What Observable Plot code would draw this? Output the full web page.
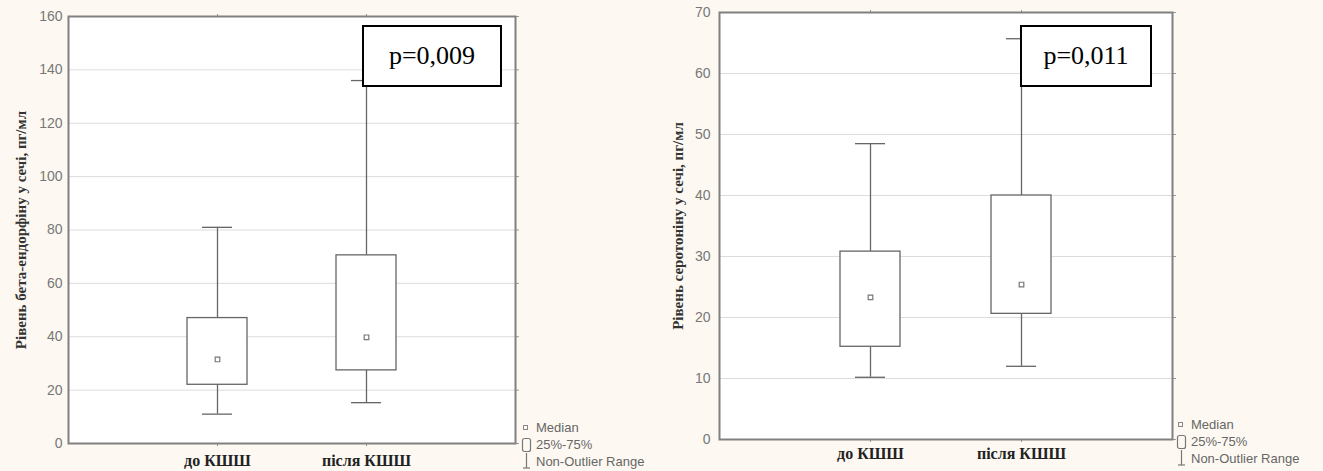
<!DOCTYPE html>
<html>
<head>
<meta charset="utf-8">
<script src="https://cdn.jsdelivr.net/npm/d3@7"></script>
<script src="https://cdn.jsdelivr.net/npm/@observablehq/plot@0.6"></script>
<style>
  html, body { margin: 0; padding: 0; background: #fdf9f2; }
  #wrap { position: relative; width: 1323px; height: 471px; overflow: hidden; background: #fdf9f2; }
  .panel { position: absolute; top: 0; }
  .panel svg { background: transparent !important; }
  .pbox { position: absolute; background: #fff; border: 2px solid #000; box-sizing: border-box;
          font-family: "Liberation Serif", "DejaVu Serif", serif; font-size: 26px; color: #000;
          display: flex; align-items: center; justify-content: center; }
  .legend { position: absolute; font-family: "Liberation Sans", Arial, sans-serif; font-size: 13px; color: #666; line-height: 17px; }
  .legend .row { display: flex; align-items: center; height: 17px; }
  .legend svg { width: 12px; height: 17px; margin-right: 3px; flex: none; }
</style>
</head>
<body>
<div id="wrap">
  <div id="left" class="panel" style="left:0px"></div>
  <div id="right" class="panel" style="left:660px"></div>
</div>
<script>
// ---- data ----
const categories = ["до КШШ", "після КШШ"];

const betaLabel = "Рівень бета-ендорфіну у сечі, пг/мл";
const betaMin = [11, 15.3];
const betaQ1 = [22, 27.4];
const betaMed = [31.5, 39.8];
const betaQ3 = [47, 70.5];
const betaMax = [81, 136];
const betaTicks = [0, 20, 40, 60, 80, 100, 120, 140, 160];
const betaP = "p=0,009";

const seroLabel = "Рівень серотоніну у сечі, пг/мл";
const seroMin = [10.2, 12];
const seroQ1 = [15.2, 20.6];
const seroMed = [23.3, 25.4];
const seroQ3 = [30.8, 40];
const seroMax = [48.5, 65.7];
const seroTicks = [0, 10, 20, 30, 40, 50, 60, 70];
const seroP = "p=0,011";

const legendItems = ["Median", "25%-75%", "Non-Outlier Range"];

function rows(mins, q1s, meds, q3s, maxs) {
  return categories.map((c, i) => ({cat: c, lo: mins[i], q1: q1s[i], med: meds[i], q3: q3s[i], hi: maxs[i]}));
}

function boxChart(cfg) {
  const data = rows(...cfg.series);
  const bw = 60;
  const W = cfg.width - cfg.marginLeft - cfg.marginRight;
  const step = W / 3;
  const pi = 1 - bw / step;
  const po = (1 + pi) / 2;
  const line = "#666";
  return Plot.plot({
    width: cfg.width,
    height: 471,
    marginLeft: cfg.marginLeft,
    marginRight: cfg.marginRight,
    marginTop: cfg.marginTop,
    marginBottom: cfg.marginBottom,
    style: {background: "transparent"},
    x: {type: "band", domain: categories, paddingInner: pi, paddingOuter: po, label: null, axis: null},
    y: {domain: cfg.domain, ticks: cfg.ticks, label: null},
    marks: [
      Plot.frame({fill: "#fff", stroke: "none"}),
      Plot.gridY(cfg.ticks, {stroke: "#dcdcdc", strokeOpacity: 1}),
      Plot.axisY({ticks: cfg.ticks, tickSize: 0, tickPadding: cfg.tickPad, fontSize: 14, fill: "#777",
                  fontFamily: "Liberation Sans, Arial, sans-serif", label: null}),
      Plot.axisY({anchor: "right", ticks: cfg.ticks, tickSize: 3, tickFormat: () => "", stroke: "#999", label: null}),
      Plot.axisX({anchor: "top", tickSize: 3, tickFormat: () => "", stroke: "#999", label: null}),
      Plot.axisX({anchor: "bottom", tickSize: 3, tickFormat: () => "", stroke: "#999", label: null}),
      Plot.text(categories, {x: d => d, text: d => d, frameAnchor: "bottom", dy: cfg.xDy, lineAnchor: "middle",
                  fontSize: 16, fontWeight: "bold", fill: "#222", fontFamily: "Liberation Serif"}),
      Plot.text([cfg.ylabel], {frameAnchor: "left", rotate: -90, dx: cfg.labelDx, textAnchor: "middle",
                  fontSize: 15, fontWeight: "bold", fill: "#333", letterSpacing: "1px",
                  fontFamily: "Liberation Serif"}),
      Plot.ruleX(data, {x: "cat", y1: "q3", y2: "hi", stroke: line, strokeWidth: 1.3}),
      Plot.ruleX(data, {x: "cat", y1: "lo", y2: "q1", stroke: line, strokeWidth: 1.3}),
      Plot.tickY(data, {x: "cat", y: "hi", insetLeft: 15, insetRight: 15, stroke: line, strokeWidth: 1.3}),
      Plot.tickY(data, {x: "cat", y: "lo", insetLeft: 15, insetRight: 15, stroke: line, strokeWidth: 1.3}),
      Plot.barY(data, {x: "cat", y1: "q1", y2: "q3", fill: "#fff", stroke: line, strokeWidth: 1.3}),
      Plot.dot(data, {x: "cat", y: "med", symbol: "square", r: 2.6, stroke: "#777", fill: "#fff", strokeWidth: 1.2}),
      Plot.frame({stroke: "#808080", strokeWidth: 2})
    ]
  });
}

const left = boxChart({
  series: [betaMin, betaQ1, betaMed, betaQ3, betaMax],
  width: 660, marginLeft: 68, marginRight: 145, marginTop: 16, marginBottom: 28,
  domain: [0, 160], ticks: betaTicks, ylabel: betaLabel, labelDx: -47, tickPad: 6, xDy: 17
});
document.getElementById("left").appendChild(left);

const right = boxChart({
  series: [seroMin, seroQ1, seroMed, seroQ3, seroMax],
  width: 663, marginLeft: 59, marginRight: 151, marginTop: 12, marginBottom: 32,
  domain: [0, 70], ticks: seroTicks, ylabel: seroLabel, labelDx: -41, tickPad: 9, xDy: 14
});
document.getElementById("right").appendChild(right);

// p-value annotation boxes
function pBox(text, x, y, w, h) {
  const d = document.createElement("div");
  d.className = "pbox";
  d.style.left = x + "px"; d.style.top = y + "px"; d.style.width = w + "px"; d.style.height = h + "px";
  d.textContent = text;
  document.getElementById("wrap").appendChild(d);
}
pBox(betaP, 362, 25, 140, 62);
pBox(seroP, 1020, 25, 132, 62);

// legends
const icons = [
  '<svg viewBox="0 0 12 17"><rect x="2.5" y="6.5" width="4" height="4" fill="none" stroke="#888" stroke-width="1"/></svg>',
  '<svg viewBox="0 0 12 17"><rect x="1.5" y="2.5" width="8" height="13" rx="2" fill="none" stroke="#777" stroke-width="1.2"/></svg>',
  '<svg viewBox="0 0 12 17"><line x1="5.5" y1="0" x2="5.5" y2="15" stroke="#777" stroke-width="1.2"/><line x1="2" y1="15" x2="9" y2="15" stroke="#777" stroke-width="1.2"/></svg>'
];
function legend(x, y) {
  const d = document.createElement("div");
  d.className = "legend";
  d.style.left = x + "px"; d.style.top = y + "px";
  legendItems.forEach((t, i) => {
    const r = document.createElement("div");
    r.className = "row";
    r.innerHTML = icons[i] + "<span>" + t + "</span>";
    d.appendChild(r);
  });
  document.getElementById("wrap").appendChild(d);
}
legend(521, 419);
legend(1176, 416);
</script>
</body>
</html>
